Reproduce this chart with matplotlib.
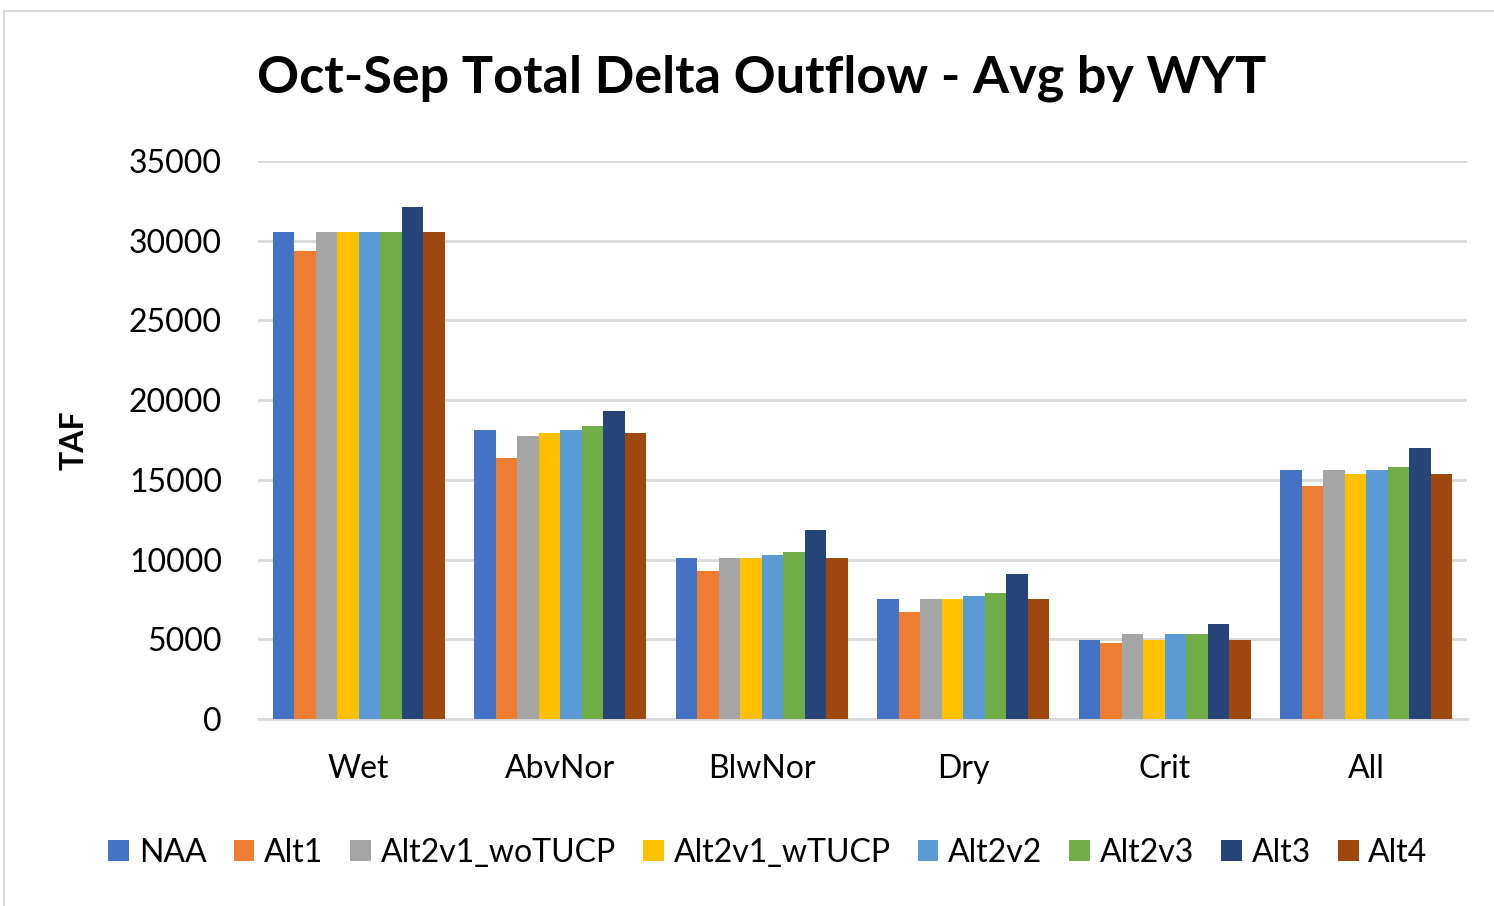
import numpy as np
import matplotlib.pyplot as plt
from matplotlib.patches import Rectangle

# Average Oct-Sep total Delta outflow (TAF) by water year type
categories = ['Wet', 'AbvNor', 'BlwNor', 'Dry', 'Crit', 'All']
series = ['NAA', 'Alt1', 'Alt2v1_woTUCP', 'Alt2v1_wTUCP', 'Alt2v2', 'Alt2v3', 'Alt3', 'Alt4']

naa = [30550, 18130, 10100, 7530, 4960, 15620]
alt1 = [29360, 16370, 9290, 6710, 4770, 14620]
alt2v1_wo = [30550, 17750, 10100, 7530, 5330, 15620]
alt2v1_w = [30550, 17940, 10100, 7530, 4960, 15370]
alt2v2 = [30550, 18130, 10290, 7720, 5330, 15620]
alt2v3 = [30550, 18380, 10480, 7900, 5330, 15810]
alt3 = [32120, 19320, 11860, 9100, 5960, 17000]
alt4 = [30550, 17940, 10100, 7530, 4960, 15370]

values = [naa, alt1, alt2v1_wo, alt2v1_w, alt2v2, alt2v3, alt3, alt4]
colors = ['#4472C4', '#ED7D31', '#A5A5A5', '#FFC000',
          '#5B9BD5', '#70AD47', '#264478', '#9E480E']

plt.rcParams['font.family'] = ['Lato', 'DejaVu Sans']

fig = plt.figure(figsize=(14.94, 9.06), dpi=100)
ax = fig.add_axes([258 / 1494, 1 - 719 / 906, (1467 - 258) / 1494, (719 - 161) / 906])

# chart border like the spreadsheet frame
fig.patches.append(Rectangle((4 / 1494, -0.01), 1.1, 1 - 11 / 906 + 0.01,
                             transform=fig.transFigure, fill=False,
                             edgecolor='#D9D9D9', linewidth=1.5))

x = np.arange(len(categories))
n = len(series)
group_w = 0.855
bar_w = group_w / n
for i, (name, vals, col) in enumerate(zip(series, values, colors)):
    offs = -group_w / 2 + bar_w * (i + 0.5)
    ax.bar(x + offs, vals, width=bar_w, color=col, label=name, zorder=3)

ax.set_xlim(-0.5, len(categories) - 0.5)
ax.set_ylim(0, 35000)
ax.set_yticks(np.arange(0, 35001, 5000))
ax.set_xticks(x)
ax.set_xticklabels(categories)
ax.tick_params(axis='both', length=0, labelsize=23, colors='#000000')
ax.tick_params(axis='x', pad=25)
ax.tick_params(axis='y', pad=26)
ax.grid(axis='y', color='#D9D9D9', linewidth=2, zorder=0)
for s in ['top', 'right', 'left']:
    ax.spines[s].set_visible(False)
ax.spines['bottom'].set_color('#D9D9D9')
ax.spines['bottom'].set_linewidth(2)

ax.set_ylabel('TAF', fontsize=23, fontweight='bold')
ax.yaxis.set_label_coords(-0.14, 0.5)

fig.text(762 / 1494, 1 - 78 / 906, 'Oct-Sep Total Delta Outflow - Avg by WYT',
         ha='center', va='center', fontsize=37.5, fontweight='bold')

fig.legend(loc='center', bbox_to_anchor=(768 / 1494, 1 - 853 / 906), ncol=n,
           frameon=False, fontsize=23, handlelength=0.65, handleheight=0.65,
           handletextpad=0.3, columnspacing=0.85)

plt.savefig('out.png', dpi=100)
